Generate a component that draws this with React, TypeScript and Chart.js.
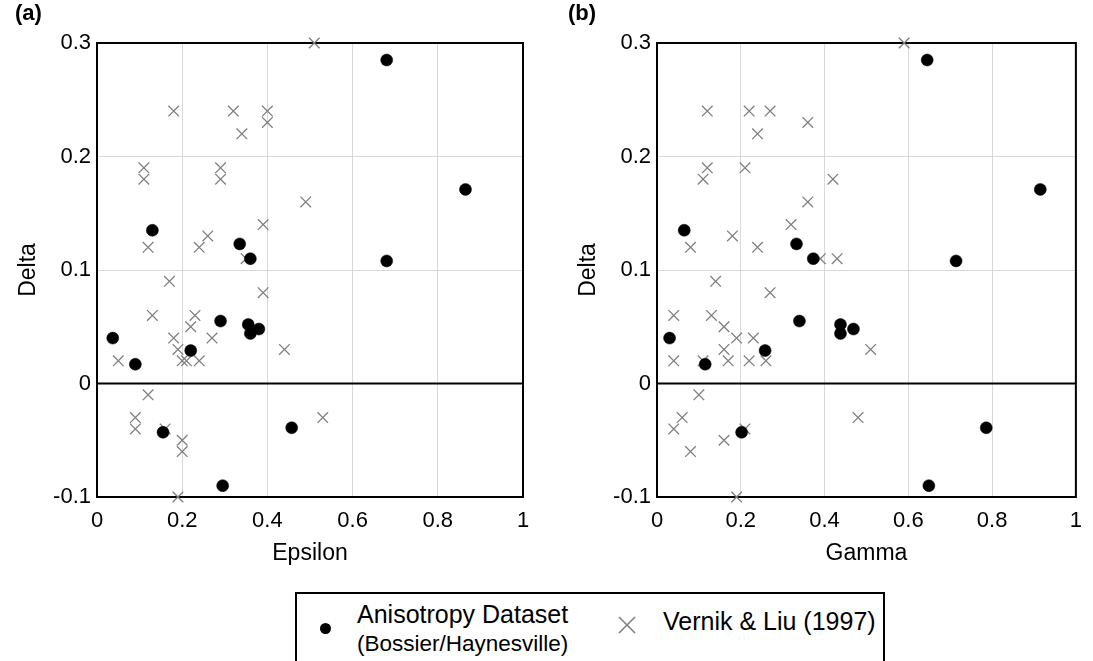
import React, { useEffect, useRef } from "react";
import { Chart, registerables } from "chart.js";

Chart.register(...registerables);

// ---------- data ----------
const xTickValues = [0, 0.2, 0.4, 0.6, 0.8, 1];
const xTickLabels = ["0", "0.2", "0.4", "0.6", "0.8", "1"];
const yTickValues = [-0.1, 0, 0.1, 0.2, 0.3];
const yTickLabels = ["-0.1", "0", "0.1", "0.2", "0.3"];

const anisoLabel = "Anisotropy Dataset";
const anisoSubLabel = "(Bossier/Haynesville)";
const vernikLabel = "Vernik & Liu (1997)";

const anisoEpsilon = [0.68, 0.865, 0.13, 0.335, 0.36, 0.68, 0.29, 0.355, 0.38, 0.36, 0.037, 0.22, 0.09, 0.155, 0.457, 0.295];
const anisoGamma = [0.645, 0.915, 0.065, 0.333, 0.373, 0.714, 0.34, 0.438, 0.469, 0.438, 0.03, 0.258, 0.115, 0.202, 0.786, 0.649];
const anisoDelta = [0.285, 0.171, 0.135, 0.123, 0.11, 0.108, 0.055, 0.052, 0.048, 0.044, 0.04, 0.029, 0.017, -0.043, -0.039, -0.09];

const vernikEpsilon = [0.51, 0.18, 0.32, 0.4, 0.4, 0.34, 0.11, 0.11, 0.29, 0.29, 0.49, 0.39, 0.26, 0.24, 0.12, 0.35, 0.17, 0.39, 0.13, 0.23, 0.22, 0.18, 0.27, 0.19, 0.44, 0.05, 0.2, 0.21, 0.24, 0.12, 0.09, 0.09, 0.16, 0.2, 0.2, 0.19, 0.53];
const vernikDeltaA = [0.3, 0.24, 0.24, 0.24, 0.23, 0.22, 0.19, 0.18, 0.19, 0.18, 0.16, 0.14, 0.13, 0.12, 0.12, 0.11, 0.09, 0.08, 0.06, 0.06, 0.05, 0.04, 0.04, 0.03, 0.03, 0.02, 0.02, 0.02, 0.02, -0.01, -0.03, -0.04, -0.04, -0.05, -0.06, -0.1, -0.03];

const vernikGamma = [0.59, 0.12, 0.22, 0.27, 0.36, 0.24, 0.12, 0.21, 0.11, 0.42, 0.36, 0.32, 0.18, 0.08, 0.24, 0.39, 0.43, 0.14, 0.27, 0.04, 0.13, 0.16, 0.19, 0.23, 0.16, 0.51, 0.04, 0.11, 0.17, 0.22, 0.26, 0.1, 0.06, 0.04, 0.21, 0.16, 0.08, 0.19, 0.48];
const vernikDeltaB = [0.3, 0.24, 0.24, 0.24, 0.23, 0.22, 0.19, 0.19, 0.18, 0.18, 0.16, 0.14, 0.13, 0.12, 0.12, 0.11, 0.11, 0.09, 0.08, 0.06, 0.06, 0.05, 0.04, 0.04, 0.03, 0.03, 0.02, 0.02, 0.02, 0.02, 0.02, -0.01, -0.03, -0.04, -0.04, -0.05, -0.06, -0.1, -0.03];

// ---------- styling ----------
const FONT = "'Liberation Sans', Arial, Helvetica, sans-serif";
const GRID = "#d9d9d9";
const CROSS = "#7f7f7f";

const framePlugin = {
  id: "frame",
  beforeDatasetsDraw(chart: any) {
    const { ctx, chartArea } = chart;
    const y = chart.scales.y;
    ctx.save();
    ctx.strokeStyle = "#000";
    ctx.lineWidth = 2;
    const y0 = y.getPixelForValue(0);
    ctx.beginPath();
    ctx.moveTo(chartArea.left, y0);
    ctx.lineTo(chartArea.right, y0);
    ctx.stroke();
    ctx.strokeRect(chartArea.left, chartArea.top, chartArea.right - chartArea.left, chartArea.bottom - chartArea.top);
    ctx.restore();
  },
};

function zip(xs: number[], ys: number[]) {
  return xs.map((x, i) => ({ x, y: ys[i] }));
}

function makeConfig(opts: {
  panel: string;
  xTitle: string;
  anisoX: number[];
  vernikX: number[];
  vernikY: number[];
  yAxisWidth: number;
  yTitlePad: number;
  padRight: number;
}): any {
  return {
    type: "scatter",
    data: {
      datasets: [
        {
          label: anisoLabel,
          data: zip(opts.anisoX, anisoDelta),
          pointStyle: "circle",
          pointRadius: 6,
          pointBackgroundColor: "#000",
          pointBorderColor: "#000",
          pointBorderWidth: 0.5,
          clip: false,
        },
        {
          label: vernikLabel,
          data: zip(opts.vernikX, opts.vernikY),
          pointStyle: "crossRot",
          pointRadius: 7.5,
          pointBorderColor: CROSS,
          pointBackgroundColor: CROSS,
          pointBorderWidth: 1.3,
          clip: false,
        },
      ],
    },
    options: {
      responsive: false,
      animation: false,
      events: [],
      layout: { padding: { left: 15, right: opts.padRight, top: 0, bottom: 0 } },
      plugins: {
        legend: { display: false },
        tooltip: { enabled: false },
        title: {
          display: true,
          text: opts.panel,
          align: "start",
          color: "#000",
          font: { family: FONT, size: 22, weight: "bold" },
          padding: { top: 1, bottom: 15.6 },
        },
      },
      scales: {
        x: {
          type: "linear",
          min: 0,
          max: 1,
          afterBuildTicks: (s: any) => {
            s.ticks = xTickValues.map((v) => ({ value: v }));
          },
          afterFit: (s: any) => {
            s.height = 83;
          },
          ticks: {
            autoSkip: false,
            maxRotation: 0,
            padding: 11,
            color: "#000",
            font: { family: FONT, size: 22 },
            callback: (_v: any, i: number) => xTickLabels[i],
          },
          grid: { color: GRID, lineWidth: 1, drawTicks: false },
          border: { display: false },
          title: {
            display: true,
            text: opts.xTitle,
            color: "#000",
            font: { family: FONT, size: 23 },
            padding: { top: 0, bottom: 13 },
          },
        },
        y: {
          type: "linear",
          min: -0.1,
          max: 0.3,
          afterBuildTicks: (s: any) => {
            s.ticks = yTickValues.map((v) => ({ value: v }));
          },
          afterFit: (s: any) => {
            s.width = opts.yAxisWidth;
          },
          ticks: {
            autoSkip: false,
            padding: 6,
            color: "#000",
            font: { family: FONT, size: 22 },
            callback: (_v: any, i: number) => yTickLabels[i],
          },
          grid: { color: GRID, lineWidth: 1, drawTicks: false },
          border: { display: false },
          title: {
            display: true,
            text: "Delta",
            color: "#000",
            font: { family: FONT, size: 23 },
            padding: { top: opts.yTitlePad, bottom: 0 },
          },
        },
      },
    },
    plugins: [framePlugin],
  };
}

export default function App() {
  const refA = useRef<HTMLCanvasElement | null>(null);
  const refB = useRef<HTMLCanvasElement | null>(null);

  useEffect(() => {
    const a = new Chart(
      refA.current as HTMLCanvasElement,
      makeConfig({
        panel: "(a)",
        xTitle: "Epsilon",
        anisoX: anisoEpsilon,
        vernikX: vernikEpsilon,
        vernikY: vernikDeltaA,
        yAxisWidth: 82,
        yTitlePad: 0,
        padRight: 22,
      })
    );
    const b = new Chart(
      refB.current as HTMLCanvasElement,
      makeConfig({
        panel: "(b)",
        xTitle: "Gamma",
        anisoX: anisoGamma,
        vernikX: vernikGamma,
        vernikY: vernikDeltaB,
        yAxisWidth: 89,
        yTitlePad: 7,
        padRight: 9,
      })
    );
    return () => {
      a.destroy();
      b.destroy();
    };
  }, []);

  return (
    <div
      style={{
        position: "fixed",
        left: 0,
        top: 0,
        width: 1093,
        height: 661,
        background: "#fff",
        overflow: "hidden",
        fontFamily: FONT,
        color: "#000",
      }}
    >
      <canvas ref={refA} width={545} height={580} style={{ position: "absolute", left: 0, top: 0 }} />
      <canvas ref={refB} width={540} height={580} style={{ position: "absolute", left: 553, top: 0 }} />
      <div
        style={{
          position: "absolute",
          left: 295,
          top: 592,
          width: 590,
          height: 120,
          border: "2px solid #000",
          boxSizing: "border-box",
        }}
      />
      <div
        style={{
          position: "absolute",
          left: 319.5,
          top: 622.5,
          width: 11.5,
          height: 11.5,
          borderRadius: "50%",
          background: "#000",
        }}
      />
      <div style={{ position: "absolute", left: 357, top: 602, fontSize: 25, lineHeight: "25px", whiteSpace: "nowrap" }}>
        {anisoLabel}
      </div>
      <div style={{ position: "absolute", left: 357, top: 633, fontSize: 22.5, lineHeight: "22.5px", whiteSpace: "nowrap" }}>
        {anisoSubLabel}
      </div>
      <svg width={18} height={18} style={{ position: "absolute", left: 618, top: 616 }}>
        <line x1={1} y1={1} x2={17} y2={17} stroke={CROSS} strokeWidth={1.6} />
        <line x1={17} y1={1} x2={1} y2={17} stroke={CROSS} strokeWidth={1.6} />
      </svg>
      <div style={{ position: "absolute", left: 663, top: 609, fontSize: 25, lineHeight: "25px", whiteSpace: "nowrap" }}>
        {vernikLabel}
      </div>
    </div>
  );
}
